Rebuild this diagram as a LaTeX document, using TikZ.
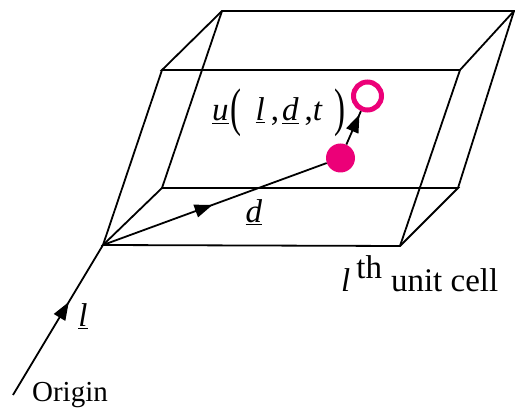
\documentclass[tikz,border=0pt]{standalone}
\usepackage{fontspec}
\setmainfont{Liberation Serif}
\usetikzlibrary{arrows.meta,decorations.markings}
\definecolor{pinkdot}{RGB}{236,0,120}
\newcommand{\tallparen}[1]{\raisebox{-4.7pt}{\scalebox{1}[1.6]{#1}}}
\begin{document}
\begin{tikzpicture}[x=1pt,y=-1pt,
  edge/.style={line width=1.8pt},
  midarrow/.style={decoration={markings, mark=at position #1 with {\arrow{Triangle[length=18pt,width=13pt]}}}, postaction={decorate}},
  lbl/.style={font=\fontsize{29}{29}\selectfont, inner sep=0pt},
  mathlbl/.style={font=\fontsize{33}{33}\selectfont, inner sep=0pt}]
\useasboundingbox (0,0) rectangle (515,414);
% box vertices
\coordinate (O) at (103,245);
\coordinate (A) at (400,246);
\coordinate (B) at (458,188);
\coordinate (C) at (162,188);
\coordinate (Ot) at (162,70);
\coordinate (At) at (460,70);
\coordinate (Bt) at (514,11);
\coordinate (Ct) at (222,11);
\coordinate (S) at (13,395);
% edges
\draw[edge] (O) -- (A) -- (B) -- (C) -- cycle;
\draw[edge] (Ot) -- (At) -- (Bt) -- (Ct) -- cycle;
\draw[edge] (O) -- (Ot) (A) -- (At) (B) -- (Bt) (C) -- (Ct);
% atoms
\node[circle, fill=pinkdot, minimum size=29pt, inner sep=0pt] (dot) at (340.5,158) {};
\node[circle, draw=pinkdot, line width=5pt, fill=white, minimum size=28pt, inner sep=0pt] (ring) at (367.5,96) {};
% vectors
\draw[edge, midarrow=0.62] (S) -- (O);
\draw[edge, midarrow=0.49] (O) -- (dot);
\draw[edge, midarrow=0.9] (dot) -- (ring);
% labels
\node[mathlbl] (lvec) at (83,316) {\underline{\textit{l}}};
\node[mathlbl] (dvec) at (254,212) {\underline{\textit{d}}};
\node[lbl] (orig) at (70,395) {Origin};
\node[mathlbl, anchor=base west] (cell) at (341,292) {\textit{l}\hspace{6pt}\raisebox{13pt}{th}\hspace{9pt}unit cell};
\node[mathlbl, anchor=base west] (ulab) at (212,121) {\underline{\textit{u}}\hspace{2pt}\tallparen{(}\hspace{14pt}\underline{\textit{l}}\hspace{6pt},\hspace{3pt}\underline{\textit{d}}\hspace{6pt},\textit{t}\hspace{12pt}\tallparen{)}};
\end{tikzpicture}
\end{document}
